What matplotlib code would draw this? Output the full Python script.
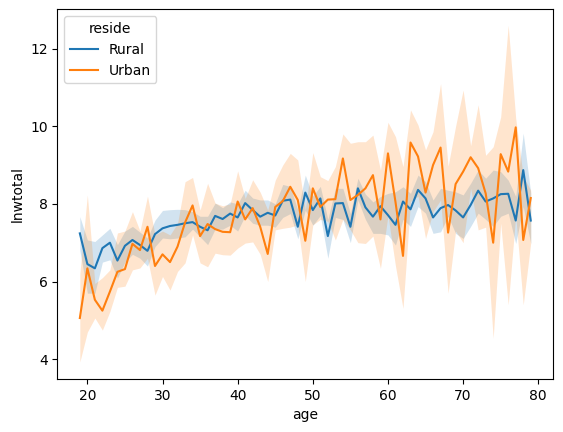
import numpy as np
import matplotlib
matplotlib.use('Agg')
import matplotlib.pyplot as plt

# Ages observed (one point per age)
ages = list(range(19, 80))

# Rural: mean lnwtotal and 95% CI bounds
rural_mean = [7.24, 6.45, 6.34, 6.86, 7.00, 6.54, 6.92, 7.07, 6.94, 6.79,
              7.22, 7.37, 7.43, 7.46, 7.50, 7.53, 7.41, 7.32, 7.69, 7.61,
              7.75, 7.65, 8.02, 7.84, 7.67, 7.77, 7.70, 8.08, 8.11, 7.41,
              8.29, 7.84, 8.14, 7.17, 8.01, 8.02, 7.41, 8.40, 7.91, 7.67,
              7.94, 7.71, 7.46, 8.06, 7.86, 8.36, 8.14, 7.65, 7.89, 7.97,
              7.83, 7.65, 7.97, 8.34, 8.06, 8.14, 8.25, 8.26, 7.57, 8.87,
              7.57]
rural_low = [6.80, 5.70, 5.70, 6.50, 6.56, 6.09, 6.50, 6.70, 6.60, 6.40,
             6.90, 7.12, 7.10, 7.12, 7.15, 7.35, 7.15, 6.95, 7.35, 7.35,
             7.45, 7.30, 7.70, 7.50, 7.45, 7.45, 7.40, 7.65, 7.75, 7.10,
             7.84, 7.45, 7.70, 6.60, 7.65, 7.60, 7.00, 8.10, 7.60, 7.24,
             7.24, 7.20, 6.94, 7.60, 7.42, 7.93, 7.76, 7.24, 7.28, 7.68,
             7.24, 7.11, 7.42, 7.76, 7.60, 7.42, 7.68, 7.76, 6.98, 7.93,
             6.98]
rural_high = [7.67, 7.07, 7.03, 7.20, 7.37, 6.95, 7.30, 7.42, 7.27, 7.12,
              7.58, 7.83, 7.85, 7.86, 7.85, 7.80, 7.68, 7.68, 8.02, 7.90,
              8.05, 8.00, 8.35, 8.15, 8.10, 8.10, 8.00, 8.50, 8.45, 7.84,
              8.74, 8.20, 8.45, 7.60, 8.40, 8.40, 7.75, 8.66, 8.25, 8.05,
              8.19, 8.27, 8.31, 8.44, 8.27, 8.74, 8.57, 8.10, 8.40, 8.35,
              8.31, 8.23, 8.53, 8.87, 8.66, 8.87, 8.83, 8.61, 8.19, 9.82,
              8.27]

# Urban: mean lnwtotal and 95% CI bounds
urban_mean = [5.06, 6.34, 5.53, 5.25, 5.74, 6.25, 6.32, 6.97, 6.81, 7.41,
              6.40, 6.70, 6.50, 6.90, 7.52, 7.96, 7.17, 7.48, 7.35, 7.28,
              7.27, 8.06, 7.60, 7.89, 7.41, 6.71, 7.92, 8.07, 8.44, 8.10,
              7.05, 8.40, 7.92, 8.11, 8.12, 9.17, 8.10, 8.23, 8.40, 8.74,
              7.60, 9.30, 8.05, 6.66, 9.58, 9.22, 8.29, 9.00, 9.45, 7.26,
              8.51, 8.83, 9.20, 8.92, 8.27, 7.00, 9.28, 8.83, 9.97, 7.07,
              8.15]
urban_low = [3.93, 4.70, 5.06, 4.75, 5.23, 5.85, 5.88, 6.30, 6.35, 6.60,
             5.65, 6.13, 5.78, 6.26, 6.48, 7.20, 6.48, 6.38, 6.73, 6.69,
             6.68, 6.86, 6.99, 7.02, 6.70, 6.00, 7.33, 7.37, 7.40, 7.46,
             6.00, 7.46, 7.60, 7.55, 7.07, 7.60, 7.33, 7.00, 6.98, 7.17,
             6.34, 7.70, 6.40, 5.31, 8.06, 8.20, 7.11, 7.80, 8.10, 5.70,
             7.30, 7.00, 8.40, 7.33, 7.40, 4.54, 7.50, 5.40, 7.70, 5.40,
             7.00]
urban_high = [6.20, 8.23, 5.95, 6.10, 6.30, 7.25, 7.30, 7.80, 7.30, 8.20,
              7.20, 7.30, 7.20, 7.50, 8.57, 8.68, 7.84, 8.53, 8.02, 7.95,
              8.00, 8.85, 8.14, 8.62, 8.30, 7.84, 8.61, 9.00, 9.30, 9.13,
              7.84, 9.32, 8.70, 8.60, 8.96, 9.80, 9.56, 9.60, 9.60, 9.77,
              8.87, 10.10, 9.73, 8.96, 10.42, 10.03, 9.39, 9.86, 11.10, 8.97,
              10.00, 10.93, 9.50, 10.55, 9.25, 9.47, 10.24, 12.60, 10.20, 8.70,
              8.35]

fig = plt.figure(figsize=(5.63, 4.32), dpi=100)
ax = fig.add_axes([57.3 / 563, 53 / 432, 496 / 563, 369.7 / 432])

series = [('Rural', rural_mean, rural_low, rural_high, '#1f77b4'),
          ('Urban', urban_mean, urban_low, urban_high, '#ff7f0e')]
for name, mean, low, high, color in series:
    ax.fill_between(ages, low, high, color=color, alpha=0.2, linewidth=0)
    ax.plot(ages, mean, color=color, linewidth=1.5, label=name)

ax.set_xlim(16, 82)
ax.set_ylim(3.49, 13.01)
ax.set_xticks([20, 30, 40, 50, 60, 70, 80])
ax.set_yticks([4, 6, 8, 10, 12])
ax.set_xlabel('age')
ax.set_ylabel('lnwtotal')
ax.legend(title='reside', loc='upper left')

fig.savefig('out.png', dpi=100)
